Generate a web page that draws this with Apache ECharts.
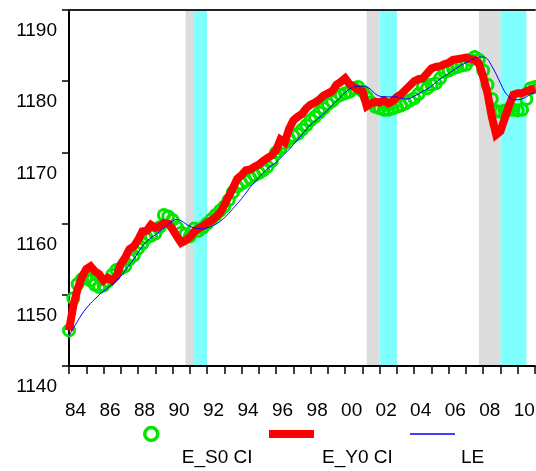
<!DOCTYPE html>
<html><head><meta charset="utf-8">
<script src="https://cdn.jsdelivr.net/npm/echarts@6/dist/echarts.min.js"></script>
<style>html,body{margin:0;padding:0;background:#fff}#c{width:536px;height:471px}</style>
</head><body><div id="c"></div>
<script>
// quarterly data starting 1984.0
const startYear = 1984;
const stepQ = 0.25;
const E_Y0 = [
1145.0,1148.5,1150.8,1152.5, 1153.6,1154.0,1153.3,1152.9, 1152.0,1152.4,1152.0,1152.6,
1154.3,1155.2,1156.4,1156.8, 1157.7,1158.9,1159.0,1159.8, 1159.4,1159.6,1160.1,1160.0,
1159.2,1158.2,1157.3,1157.6, 1158.1,1158.8,1159.3,1159.6, 1160.1,1160.4,1160.9,1161.5,
1162.6,1163.8,1165.0,1166.3, 1166.8,1167.5,1167.6,1168.0, 1168.3,1168.8,1169.2,1169.6,
1170.3,1171.8,1171.4,1173.3, 1174.5,1175.0,1175.4,1176.2, 1176.7,1177.0,1177.4,1178.0,
1178.3,1178.6,1179.5,1179.9, 1180.4,1179.6,1179.2,1178.8, 1178.6,1176.5,1176.9,1177.1,
1177.0,1177.3,1176.9,1177.2, 1177.8,1178.2,1178.8,1179.4, 1180.0,1180.3,1180.4,1181.1,
1181.8,1182.0,1182.1,1182.4, 1182.6,1183.0,1183.1,1183.2, 1183.3,1183.1,1183.0,1182.5,
1180.6,1178.3,1175.0,1172.5, 1173.0,1174.8,1176.6,1178.1, 1178.3,1178.3,1178.6,1178.8,
1179.0];
const E_S0 = [
1145.0,1149.5,1151.5,1152.2, 1152.5,1152.0,1151.4,1151.1, 1151.3,1151.9,1152.8,1153.5,
1153.7,1154.0,1155.0,1155.5, 1156.5,1157.2,1158.0,1158.3, 1158.6,1159.5,1161.2,1161.0,
1160.5,1159.5,1158.7,1158.5, 1158.2,1159.3,1159.0,1159.4, 1160.0,1160.6,1161.2,1161.8,
1162.4,1163.3,1164.4,1165.2, 1165.6,1166.0,1166.4,1166.8, 1167.1,1167.5,1168.0,1168.8,
1170.0,1170.6,1171.3,1171.9, 1172.3,1172.6,1173.2,1173.8, 1174.5,1175.0,1175.6,1176.2,
1176.8,1177.2,1177.8,1178.1, 1178.3,1178.5,1179.0,1179.2, 1178.6,1177.8,1177.0,1176.4,
1176.2,1176.0,1176.0,1176.2, 1176.4,1176.6,1176.9,1177.3, 1177.6,1178.2,1179.2,1179.0,
1179.5,1179.7,1180.4,1181.3, 1181.5,1181.8,1182.0,1182.2, 1182.3,1183.0,1183.4,1183.0,
1181.5,1179.5,1177.5,1175.8, 1175.7,1175.9,1176.0,1176.0, 1175.9,1176.0,1177.5,1179.0,
1179.2];
const LE = [
1144.2,1145.3,1146.3,1147.3, 1148.1,1148.8,1149.4,1150.0, 1150.5,1151.0,1151.5,1152.0,
1152.6,1153.4,1154.2,1155.0, 1155.9,1156.8,1157.5,1158.0, 1158.4,1158.9,1159.4,1159.9,
1160.4,1160.6,1160.4,1160.0, 1159.6,1159.4,1159.3,1159.3, 1159.4,1159.6,1159.9,1160.3,
1160.8,1161.4,1162.1,1162.8, 1163.5,1164.3,1165.1,1165.8, 1166.5,1167.1,1167.7,1168.2,
1168.6,1169.2,1169.8,1170.4, 1171.1,1171.8,1172.5,1173.2, 1173.9,1174.4,1174.9,1175.4,
1176.0,1176.6,1177.2,1177.8, 1178.4,1178.9,1179.2,1179.3, 1179.3,1179.2,1178.8,1178.2,
1177.9,1177.8,1177.8,1177.8, 1177.8,1177.6,1177.5,1177.6, 1177.9,1178.2,1178.6,1178.9,
1179.3,1179.8,1180.3,1180.7, 1181.1,1181.5,1181.9,1182.3, 1182.6,1182.9,1183.2,1183.4,
1183.4,1183.1,1182.1,1181.0, 1179.7,1178.5,1177.8,1177.4, 1177.4,1177.5,1177.8,1178.2,
1178.4];
// shaded periods [start, end]
const grayBands = [[1990.75,1991.25],[2001.25,2002.0],[2007.75,2009.0]];
const cyanBands = [[1991.25,1992.0],[2002.0,2003.0],[2009.0,2010.5]];
const yTicks = [1140,1150,1160,1170,1180,1190];
const seriesNames = ['E_S0 CI','E_Y0 CI','LE'];

const toPairs = arr => arr.map((v,i)=>[startYear + i*stepQ, v]);
const FONT = 'Liberation Sans, Arial, sans-serif';
const chart = echarts.init(document.getElementById('c'), null, {renderer:'canvas'});
const bandData = [
  ...grayBands.map(b=>[{xAxis:b[0], itemStyle:{color:'#dcdcdc'}},{xAxis:b[1]}]),
  ...cyanBands.map(b=>[{xAxis:b[0], itemStyle:{color:'#80ffff'}},{xAxis:b[1]}])
];
function legendFor(name, left, iw, ih, icon, itemStyle, padLeft){
  return {orient:'horizontal', padding:0, selectedMode:false, left:left, top:399.5,
    itemWidth:iw, itemHeight:ih,
    data:[{name:name, icon:icon, itemStyle:itemStyle}],
    formatter: n => '{p|}\n{t|' + n + '}',
    textStyle:{fontFamily:FONT, fontSize:19, color:'#000',
      rich:{p:{height:47, lineHeight:47, fontSize:19},
            t:{fontFamily:FONT, fontSize:19, color:'#000', lineHeight:22, padding:[0,0,0,padLeft]}}}};
}
chart.setOption({
  animation:false,
  grid:{left:69, right:1, top:10, bottom:105, outerBoundsMode:'none', containLabel:false},
  xAxis:[{type:'value', min:1984, max:2011, interval:1,
    axisLine:{show:true, onZero:false, lineStyle:{color:'#000', width:2}},
    axisTick:{show:true, inside:false, length:8, lineStyle:{color:'#000', width:1.5}},
    splitLine:{show:false},
    axisLabel:{fontFamily:FONT, fontSize:19, color:'#000', margin:35, padding:[0,0,0,13],
      formatter:v=> (Number.isInteger(v) && v%2===0) ? String(v%100).padStart(2,'0') : ''}},
    {type:'value', position:'top', min:1984, max:2011,
    axisLine:{show:true, onZero:false, lineStyle:{color:'#222', width:2}},
    axisTick:{show:false}, axisLabel:{show:false}, splitLine:{show:false}}],
  yAxis:{type:'value', min:yTicks[0], max:yTicks[yTicks.length-1], interval:10,
    axisLine:{show:true, lineStyle:{color:'#000', width:2}},
    axisTick:{show:true, inside:false, length:7, lineStyle:{color:'#000', width:1.5}},
    splitLine:{show:false},
    axisLabel:{fontFamily:FONT, fontSize:19, color:'#000', margin:12,
      formatter: v => '{p|}\n{v|' + String(v) + '}',
      rich:{p:{height:42, lineHeight:42, fontSize:19}, v:{fontFamily:FONT, fontSize:19, color:'#000', lineHeight:22}}}},
  legend:[
    legendFor(seriesNames[0], 143, 13, 13, 'circle', {color:'#fff', borderColor:'#00e600', borderWidth:3.5}, 19),
    legendFor(seriesNames[1], 269, 45, 8, 'rect', {color:'#ff0000'}, 3),
    legendFor(seriesNames[2], 410, 45, 1.5, 'rect', {color:'#0000ff'}, 1)
  ],
  series:[
    {type:'line', name:'bands', data:[], silent:true, z:0,
      markArea:{silent:true, z:0, data:bandData}},
    {type:'line', name:seriesNames[0], data:toPairs(E_S0), z:2, showSymbol:true, symbol:'circle', symbolSize:11,
      itemStyle:{color:'rgba(0,0,0,0)', borderColor:'#00e600', borderWidth:3},
      lineStyle:{color:'#00e600', width:0, opacity:0}},
    {type:'line', name:seriesNames[1], data:toPairs(E_Y0), z:3, showSymbol:false,
      itemStyle:{color:'#ff0000'}, lineStyle:{color:'#ff0000', width:8, cap:'butt', join:'miter'}},
    {type:'line', name:seriesNames[2], data:toPairs(LE), z:4, showSymbol:false, smooth:0.3,
      itemStyle:{color:'#0000ff'}, lineStyle:{color:'#0000ff', width:1}}
  ]
});
</script></body></html>
